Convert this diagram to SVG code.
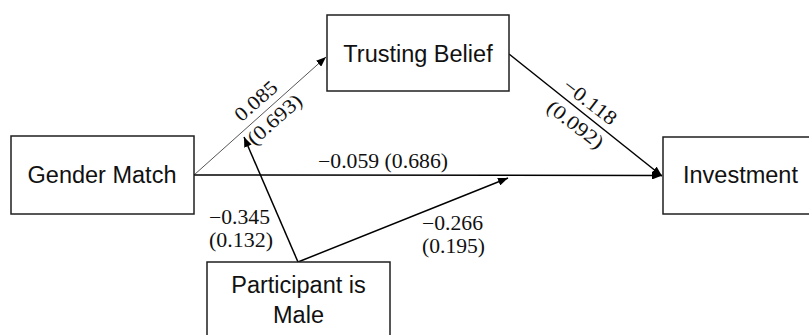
<svg xmlns="http://www.w3.org/2000/svg" width="809" height="335" viewBox="0 0 809 335">
<style>
.box{fill:#fff;stroke:#1f1f1f;stroke-width:1.5}
.nl{font-family:"Liberation Sans",Arial,sans-serif;font-size:23.5px;fill:#111}
.el{font-family:"Liberation Serif","Times New Roman",serif;font-size:20px;fill:#111}
.ln{stroke:#000;stroke-width:1.5;fill:none}
.thin{stroke:#555;stroke-width:1;fill:none}
</style>
<defs>
<marker id="ah" markerUnits="userSpaceOnUse" markerWidth="11" markerHeight="8" refX="10" refY="4" orient="auto">
<path d="M0,0 L10,4 L0,8 z" fill="#000"/>
</marker>
</defs>
<rect width="809" height="335" fill="#fff"/>
<g id="connectors">
<line class="thin" x1="194" y1="175" x2="326" y2="57" marker-end="url(#ah)"/>
<line class="ln" x1="194" y1="175" x2="662" y2="175.5" marker-end="url(#ah)"/>
<line class="ln" x1="509" y1="54" x2="662" y2="176" marker-end="url(#ah)"/>
<line class="ln" x1="298" y1="262" x2="244" y2="137" marker-end="url(#ah)"/>
<line class="ln" x1="298" y1="262" x2="508" y2="178" marker-end="url(#ah)"/>
<text class="el" x="383" y="168" text-anchor="middle" textLength="130" lengthAdjust="spacingAndGlyphs">−0.059 (0.686)</text>
<text class="el" transform="translate(256,101) rotate(-41.5)" x="0" y="6.5" text-anchor="middle" textLength="50" lengthAdjust="spacingAndGlyphs">0.085</text>
<text class="el" transform="translate(275,120) rotate(-41.5)" x="0" y="6" text-anchor="middle" textLength="66" lengthAdjust="spacingAndGlyphs">(0.693)</text>
<text class="el" transform="translate(590,102) rotate(37.5)" x="0" y="6.5" text-anchor="middle" textLength="62" lengthAdjust="spacingAndGlyphs">−0.118</text>
<text class="el" transform="translate(575,125) rotate(37.5)" x="0" y="6" text-anchor="middle" textLength="66" lengthAdjust="spacingAndGlyphs">(0.092)</text>
<text class="el" x="209" y="224" textLength="61" lengthAdjust="spacingAndGlyphs">−0.345</text>
<text class="el" x="209" y="247" textLength="64" lengthAdjust="spacingAndGlyphs">(0.132)</text>
<text class="el" x="422" y="230" textLength="61" lengthAdjust="spacingAndGlyphs">−0.266</text>
<text class="el" x="422" y="253" textLength="63" lengthAdjust="spacingAndGlyphs">(0.195)</text>
</g>
<g id="gender-match">
<rect class="box" x="11" y="136" width="183" height="78"/>
<text class="nl" x="102" y="183" text-anchor="middle">Gender Match</text>
</g>
<g id="trusting-belief">
<rect class="box" x="327" y="15" width="182" height="76"/>
<text class="nl" x="418" y="62" text-anchor="middle">Trusting Belief</text>
</g>
<g id="investment">
<rect class="box" x="663" y="137" width="160" height="77"/>
<text class="nl" x="683" y="183">Investment</text>
</g>
<g id="participant-male">
<rect class="box" x="207" y="262" width="183" height="90"/>
<text class="nl" x="298.5" y="293" text-anchor="middle">Participant is</text>
<text class="nl" x="298.5" y="323" text-anchor="middle">Male</text>
</g>
</svg>
